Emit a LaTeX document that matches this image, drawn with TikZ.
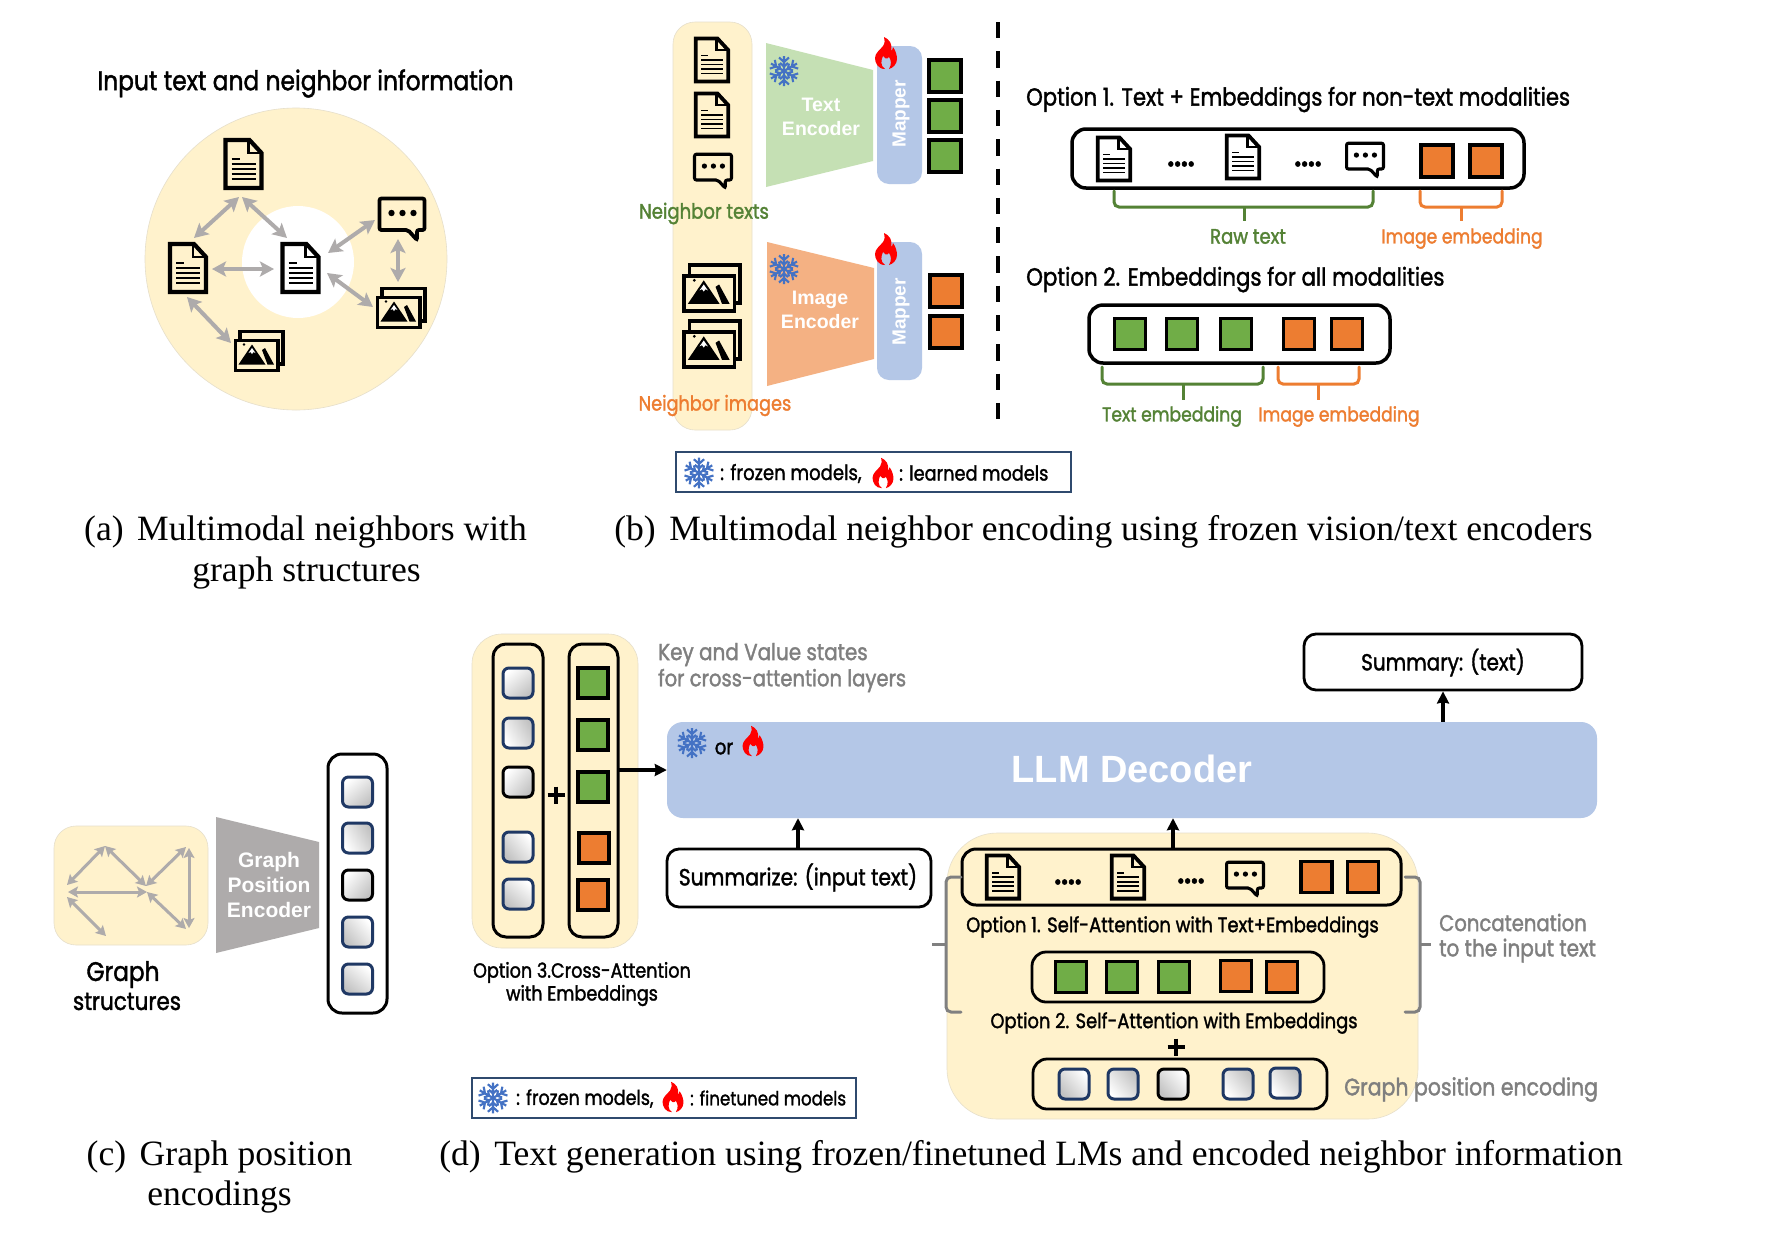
\documentclass[tikz,border=0pt]{standalone}
\usepackage{fontspec}
\usetikzlibrary{arrows.meta,calc,shapes.geometric}
\setmainfont{Liberation Serif}
\newfontfamily\fut[FakeStretch=0.86,FakeBold=1.5]{Poppins}
\newfontfamily\ari{Liberation Sans}
\definecolor{cream}{HTML}{FFF2CC}
\definecolor{creamedge}{HTML}{E6DFCB}
\definecolor{gfill}{HTML}{70AD47}
\definecolor{ofill}{HTML}{ED7D31}
\definecolor{gtext}{HTML}{548235}
\definecolor{lblue}{HTML}{B4C7E7}
\definecolor{snowc}{HTML}{4472C4}
\definecolor{navy}{HTML}{1F3864}
\definecolor{legedge}{HTML}{2F4A6E}
\definecolor{arrgray}{HTML}{AEABAB}
\definecolor{txtgray}{HTML}{7F7F7F}
\definecolor{brgray}{HTML}{808080}
\definecolor{tgreen}{HTML}{C5E0B4}
\definecolor{torange}{HTML}{F4B183}
\tikzset{
  iconbox/.style={inner sep=0pt,outer sep=0pt,minimum size=0pt},
  panel/.style={fill=cream,draw=creamedge,line width=.6pt,rounded corners=#1},
  ftxt/.style={inner sep=0pt,yshift=-2.5pt,font=\fut\fontsize{#1}{#1}\selectfont},
  captxt/.style={inner sep=0pt,yshift=-3.5pt,font=\fontsize{35.6}{40}\selectfont},
  enc/.style={inner sep=0pt,text=white,align=center,font=\ari\bfseries\fontsize{#1}{#1}\selectfont\setlength\baselineskip{1.2\baselineskip}},
  dotstxt/.style={inner sep=0pt,font=\fut\bfseries\fontsize{28}{28}\selectfont},
  gsq/.style={rectangle,inner sep=0pt,minimum size=30pt,line width=3pt,draw=navy,rounded corners=6pt,left color=white,right color=black!24,shading angle=#1},
  gsqk/.style={gsq=#1,draw=black},
  emb/.style n args={3}{rectangle,inner sep=0pt,draw=black,fill=#1,minimum size=#2,line width=#3},
  boxr/.style n args={2}{rectangle,inner sep=0pt,draw=black,rounded corners=#1,line width=#2},
  gar/.style={draw=arrgray,line width=4pt,{Stealth[length=14pt,width=15pt,inset=3pt]}-{Stealth[length=14pt,width=15pt,inset=3pt]}},
  gsar/.style={draw=arrgray,line width=3pt,{Stealth[length=10pt,width=11pt,inset=2pt]}-{Stealth[length=10pt,width=11pt,inset=2pt]}},
  kar/.style={draw=black,line width=3.5pt,-{Stealth[length=12pt,width=12pt,inset=1pt]}},
  brk/.style={line width=#1,rounded corners=5pt,line cap=round},
  legendbox/.style={rectangle,inner sep=0pt,draw=legedge,line width=1.6pt,fill=white}
}
\newcommand\docicon[4]{%
  \node[iconbox,minimum width=#4*39pt,minimum height=#4*50pt] (#1) at (#2,#3) {};
  \begin{scope}[shift={(#2,#3)},scale=#4]
    \draw[line width=#4*4.2pt] (-18,-24)--(6,-24)--(18,-11)--(18,24)--(-18,24)--cycle;
    \draw[line width=#4*2.8pt] (5,-24)--(5,-11)--(18,-11);
    \draw[line width=#4*2.2pt] (-12,-5)--(-4,-5) (-12,0)--(12,0) (-12,5)--(12,5) (-12,10)--(12,10) (-12,15)--(12,15);
  \end{scope}}
\newcommand\chaticon[4]{%
  \node[iconbox,minimum width=#4*48pt,minimum height=#4*45pt] (#1) at (#2,#3) {};
  \begin{scope}[shift={(#2,#3)},scale=#4]
    \draw[line width=#4*3.8pt,rounded corners=2pt] (-22.5,-20.5)--(22.5,-20.5)--(22.5,11)--(15,11)--(15,21)--(6,11)--(-22.5,11)--cycle;
    \fill (-10.5,-6) circle (3.2) (0.5,-6) circle (3.2) (11.5,-6) circle (3.2);
  \end{scope}}
\newcommand\imgicon[4]{%
  \node[iconbox,minimum width=#4*50pt,minimum height=#4*41pt] (#1) at (#2,#3) {};
  \begin{scope}[shift={(#2,#3)},scale=#4]
    \draw[line width=#4*3.2pt] (-23.5,-10.5) rectangle (19,19.5);
    \draw[line width=#4*3.2pt] (-19,-10.5)--(-19,-19.5)--(24,-19.5)--(24,13)--(19,13);
    \fill (-7,-6.5)--(-20.5,13.5)--(6.5,13.5)--cycle;
    \fill[white] (-7,-3)--(-10.5,2)--(-8.5,1)--(-7,3)--(-5.5,1)--(-3.5,2)--cycle;
    \fill (3,-1)--(6,-3)--(15,13.5)--(8.5,13.5)--cycle;
    \fill (-15,-6.5) circle (1.3);
  \end{scope}}
\newcommand\snowflake[3]{%
  \begin{scope}[shift={(#1,#2)},scale=#3]
    \foreach \a in {0,60,...,300}{
      \draw[snowc,rotate=\a,line width=#3*2.1pt] (0,0)--(0,15) (-5,13.5)--(0,9)--(5,13.5) (-4,8)--(0,4.5)--(4,8);
    }
  \end{scope}}
\newcommand\fireicon[3]{%
  \begin{scope}[shift={(#1,#2)},scale=#3]
    \fill[red] (-1,16) .. controls (-8,16) and (-11,10) .. (-11,5)
      .. controls (-11,0) and (-6,-3) .. (-3,-7)
      .. controls (-1,-10) and (-1,-13) .. (-2,-16)
      .. controls (3,-14) and (7,-9) .. (5,-2)
      .. controls (6,-3) and (7,-4) .. (7,-6)
      .. controls (10,-2) and (11,3) .. (11,6)
      .. controls (11,11) and (7,15) .. (3,16)
      .. controls (6,11) and (5,7) .. (3,4)
      .. controls (1,7) and (-2,5) .. (-3,3)
      .. controls (-5,7) and (-6,13) .. (-1,16) -- cycle;
  \end{scope}}
\begin{document}
\begin{tikzpicture}[x=1pt,y=-1pt]
\useasboundingbox (0,0) rectangle (1773,1235);
\fill[white] (0,0) rectangle (1773,1235);

% ---------- (a)
\node[ftxt=27.2] (atitle) at (305.5,81) {Input text and neighbor information};
\fill[cream,draw=creamedge,line width=.6pt] (296,259) circle (151);
\fill[white] (298,262) circle (56);
\docicon{dc}{300.5}{268}{1}
\docicon{dt}{243.5}{164}{1}
\docicon{dl}{188}{268}{1}
\chaticon{ch}{402}{219}{1}
\imgicon{ir}{401}{308}{1}
\imgicon{ib}{259}{351}{1}
\draw[gar] ($(dt)+(-4.5,33)$) -- ($(dl)+(6,-30)$);
\draw[gar] ($(dt)+(-1.5,33)$) -- ($(dc)+(-13.5,-30)$);
\draw[gar] ($(dl)+(24,1)$) -- ($(dc)+(-26.5,1)$);
\draw[gar] ($(dc)+(27.5,-15)$) -- ($(ch)+(-27,1)$);
\draw[gar] ($(dc)+(26.5,5)$) -- ($(ir)+(-28,-1)$);
\draw[gar] ($(ch)+(-4,20)$) -- ($(ir)+(-3,-26)$);
\draw[gar] ($(dl)+(-1,29)$) -- ($(ib)+(-28,-8)$);

% ---------- (b)
\draw[panel=22pt] (673,22) rectangle (752,430);
\docicon{bd1}{712}{60}{.9}
\docicon{bd2}{712}{115}{.9}
\chaticon{bc1}{713}{171}{.82}
\imgicon{bi1}{712}{288}{1.18}
\imgicon{bi2}{712}{344}{1.18}
\node[ftxt=21,text=gtext] (ntxt) at (704,211) {Neighbor texts};
\node[ftxt=20.6,text=ofill] (nimg) at (715,403) {Neighbor images};
\path[fill=tgreen] (766,43)--(873,70)--(873,161)--(766,187)--cycle;
\path[fill=torange] (767,242)--(874,268)--(874,359)--(767,386)--cycle;
\snowflake{784}{71}{1}
\snowflake{784}{269}{1}
\node[enc=19.5] (tenc) at (821,117) {Text\\Encoder};
\node[enc=19.5] (ienc) at (820,310) {Image\\Encoder};
\path[fill=lblue,rounded corners=12pt] (877,46) rectangle (922,184);
\path[fill=lblue,rounded corners=12pt] (877,242) rectangle (922,380);
\node[enc=19,rotate=90] (m1) at (901,114) {Mapper};
\node[enc=19,rotate=90] (m2) at (901,312) {Mapper};
\fireicon{886}{53}{1}
\fireicon{886}{249}{1}
\node[emb={gfill}{32pt}{4pt}] (bg1) at (945,76) {};
\node[emb={gfill}{32pt}{4pt}] (bg2) at (945,116) {};
\node[emb={gfill}{32pt}{4pt}] (bg3) at (945,156) {};
\node[emb={ofill}{32pt}{4pt}] (bo1) at (945.5,291) {};
\node[emb={ofill}{32pt}{4pt}] (bo2) at (945.5,332) {};
\draw[line width=4pt,dash pattern=on 16.3pt off 13pt] (998,22)--(998,420);

\node[ftxt=24.6,anchor=west] (op1) at (1026,97) {Option 1. Text + Embeddings for non-text modalities};
\draw[boxr={14pt}{3.5pt}] (1072,129) rectangle (1524,188);
\docicon{o1d1}{1114}{159}{.9}
\docicon{o1d2}{1243}{157}{.9}
\chaticon{o1c}{1365}{160}{.82}
\node[dotstxt] (o1p1) at (1181,164) {....};
\node[dotstxt] (o1p2) at (1308,164) {....};
\node[emb={ofill}{32pt}{3.5pt}] (o1o1) at (1437,161) {};
\node[emb={ofill}{32pt}{3.5pt}] (o1o2) at (1486,161) {};
\draw[gtext,brk=3pt] (1114,191)--(1114,207)--(1373,207)--(1373,191);
\draw[gtext,line width=3pt] (1244,207)--(1244,221);
\node[ftxt=21,text=gtext] (rawt) at (1248,234) {Raw text};
\draw[ofill,brk=3pt] (1420,191)--(1420,207)--(1502,207)--(1502,191);
\draw[ofill,line width=3pt] (1461,207)--(1461,221);
\node[ftxt=20,text=ofill] (ie1) at (1462,236) {Image embedding};

\node[ftxt=24.8,anchor=west] (op2) at (1026,277) {Option 2. Embeddings for all modalities};
\draw[boxr={14pt}{3.5pt}] (1089,305) rectangle (1390,363);
\foreach \n/\x in {1/1130,2/1182,3/1236}{\node[emb={gfill}{31pt}{3.5pt}] (o2g\n) at (\x,334) {};}
\foreach \n/\x in {1/1299,2/1347}{\node[emb={ofill}{31pt}{3.5pt}] (o2o\n) at (\x,334) {};}
\draw[gtext,brk=3pt] (1102,367)--(1102,384)--(1263,384)--(1263,367);
\draw[gtext,line width=3pt] (1183,384)--(1183,400);
\draw[ofill,brk=3pt] (1278,367)--(1278,384)--(1359,384)--(1359,367);
\draw[ofill,line width=3pt] (1318,384)--(1318,400);
\node[ftxt=20,text=gtext] (te2) at (1172,414) {Text embedding};
\node[ftxt=20,text=ofill] (ie2) at (1339,414) {Image embedding};

\draw[legendbox] (676,452) rectangle (1071,492);
\snowflake{699}{473}{1.02}
\node[ftxt=21,anchor=west] (lb1) at (720,471) {: frozen models,};
\fireicon{883}{473}{.95}
\node[ftxt=20.6,anchor=west] (lb2) at (899,470.5) {: learned models};

% captions top
\node[captxt] (capa1) at (305.5,528) {(a)\hspace{.38em}Multimodal neighbors with};
\node[captxt] (capa2) at (306.5,569) {graph structures};
\node[captxt] (capb) at (1103.5,528) {(b)\hspace{.38em}Multimodal neighbor encoding using frozen vision/text encoders};

% ---------- (c)
\draw[panel=22pt] (54,826) rectangle (208,945);
\coordinate (g1) at (105,846);
\coordinate (g2) at (67,885);
\coordinate (g3) at (146,886);
\coordinate (g4) at (68,892);
\coordinate (g5) at (147,892);
\coordinate (g6) at (186,847);
\coordinate (g7) at (189,848);
\coordinate (g8) at (189,928);
\coordinate (g9) at (186,929);
\coordinate (g10) at (67,897);
\coordinate (g11) at (106,936);
\draw[gsar] (g1)--(g2);
\draw[gsar] (g1)--(g3);
\draw[gsar] (g4)--(g5);
\draw[gsar] (g6)--(g3);
\draw[gsar] (g7)--(g8);
\draw[gsar] (g5)--(g9);
\draw[gsar] (g10)--(g11);
\path[fill=arrgray] (216,817)--(319,842)--(319,928)--(216,953)--cycle;
\node[enc=21] (gpe) at (269,885) {Graph\\Position\\Encoder};
\node[boxr={14pt}{3pt},minimum width=59pt,minimum height=259pt] (gbox) at (357.5,883.5) {};
\node[gsq=40] (gs1) at (357.5,792) {};
\node[gsq=120] (gs2) at (357.5,838) {};
\node[gsqk=50] (gs3) at (357.5,885) {};
\node[gsq=-50] (gs4) at (357.5,932) {};
\node[gsq=-40] (gs5) at (357.5,979) {};
\node[ftxt=27,align=center] (gstr1) at (123,972) {Graph};
\node[ftxt=25] (gstr2) at (127,999) {structures};

% ---------- (d)
\draw[panel=30pt] (472,634) rectangle (638,948);
\node[boxr={13pt}{3pt},minimum width=50pt,minimum height=293pt] (lbx) at (518,790.5) {};
\node[boxr={13pt}{3pt},minimum width=49pt,minimum height=293pt] (rbx) at (593.5,790.5) {};
\node[gsq=40] (ls1) at (518,683) {};
\node[gsq=120] (ls2) at (518,733) {};
\node[gsqk=50] (ls3) at (518,782) {};
\node[gsq=-50] (ls4) at (518,847) {};
\node[gsq=-40] (ls5) at (518,894) {};
\node[emb={gfill}{30pt}{4pt}] (rg1) at (593,683) {};
\node[emb={gfill}{30pt}{4pt}] (rg2) at (593,735) {};
\node[emb={gfill}{30pt}{4pt}] (rg3) at (593,787) {};
\node[emb={ofill}{30pt}{4pt}] (ro1) at (594,848) {};
\node[emb={ofill}{30pt}{4pt}] (ro2) at (593,895) {};
\draw[line width=4pt] (547.5,795)--(564.5,795) (556,786.5)--(556,803.5);
\node[ftxt=20.5] (op3a) at (582,970) {Option 3.Cross-Attention};
\node[ftxt=20.5] (op3b) at (582,993) {with Embeddings};
\node[ftxt=23.2,anchor=west,text=txtgray] (kv1) at (658,652) {Key and Value states};
\node[ftxt=22.8,anchor=west,text=txtgray] (kv2) at (658,678) {for cross-attention layers};

\node[rectangle,fill=lblue,rounded corners=16pt,minimum width=930pt,minimum height=96pt,inner sep=0pt] (llm) at (1132,770) {};
\node[enc=38] (llmt) at (1132,769) {LLM Decoder};
\snowflake{692}{743}{1}
\node[ftxt=21] (ort) at (724,746) {or};
\fireicon{753}{741}{.95}
\coordinate (rbxr) at (618,770);
\draw[kar] (rbxr)--(llm.west|-rbxr);

\node[boxr={12pt}{2.8pt},minimum width=264pt,minimum height=58pt] (sumz) at (799,878) {};
\node[ftxt=23.5] (sumzt) at (798,875) {Summarize: (input text)};
\coordinate (axa) at (798,0);
\coordinate (axb) at (1173,0);
\draw[kar] (sumz.north-|axa)--(llm.south-|axa);
\node[boxr={12pt}{2.8pt},minimum width=278pt,minimum height=56pt] (summ) at (1443,662) {};
\node[ftxt=23.2] (summt) at (1443,660) {Summary: (text)};
\draw[kar] (llm.north-|summ.south)--(summ.south);

\draw[panel=50pt] (947,833) rectangle (1418,1119);
\node[boxr={14pt}{3pt},minimum width=439pt,minimum height=56pt] (d1) at (1181.5,877) {};
\draw[kar] (d1.north-|axb)--(llm.south-|axb);
\docicon{d1a}{1003}{877}{.9}
\docicon{d1b}{1128}{877}{.9}
\chaticon{d1c}{1245}{879}{.82}
\node[dotstxt] (d1p1) at (1068,882) {....};
\node[dotstxt] (d1p2) at (1191,881) {....};
\node[emb={ofill}{31pt}{3.5pt}] (d1o1) at (1316.5,877) {};
\node[emb={ofill}{31pt}{3.5pt}] (d1o2) at (1363,877) {};
\node[ftxt=20.9] (opa) at (1172.5,924.5) {Option 1. Self-Attention with Text+Embeddings};
\node[boxr={14pt}{2.8pt},minimum width=292pt,minimum height=50pt] (d2) at (1178,977) {};
\node[emb={gfill}{31pt}{2.6pt}] (d2g1) at (1071,977) {};
\node[emb={gfill}{31pt}{2.6pt}] (d2g2) at (1122,977) {};
\node[emb={gfill}{31pt}{2.6pt}] (d2g3) at (1174,977) {};
\node[emb={ofill}{31pt}{2.6pt}] (d2o1) at (1236,976) {};
\node[emb={ofill}{31pt}{2.6pt}] (d2o2) at (1282,977) {};
\node[ftxt=20.8] (opb) at (1174,1020.5) {Option 2. Self-Attention with Embeddings};
\draw[line width=4pt] (1167.5,1047)--(1184.5,1047) (1176,1038.5)--(1176,1055.5);
\node[boxr={14pt}{2.8pt},minimum width=294pt,minimum height=50pt] (d3) at (1180,1084) {};
\node[gsq=-50] (d3s1) at (1074,1084) {};
\node[gsq=130] (d3s2) at (1123,1084) {};
\node[gsqk=-50] (d3s3) at (1173,1084) {};
\node[gsq=130] (d3s4) at (1238,1084) {};
\node[gsq=130] (d3s5) at (1285,1083) {};
\node[ftxt=23.8,anchor=west,text=txtgray] (gpet) at (1344,1087) {Graph position encoding};
\draw[brgray,brk=3pt] (961,877)--(946,877)--(946,1012)--(961,1012);
\draw[brgray,line width=3pt] (946,944)--(932,944);
\draw[brgray,brk=3pt] (1405,877)--(1420,877)--(1420,1012)--(1405,1012);
\draw[brgray,line width=3pt] (1420,944)--(1431,944);
\node[ftxt=22.8,anchor=west,text=txtgray] (cc1) at (1439,920) {Concatenation};
\node[ftxt=23.3,anchor=west,text=txtgray] (cc2) at (1439,948) {to the input text};

\draw[legendbox] (472,1078) rectangle (856,1118);
\snowflake{493}{1098}{1.02}
\node[ftxt=20.4,anchor=west] (ld1) at (516,1096) {: frozen models,};
\fireicon{673}{1097}{.95}
\node[ftxt=19.4,anchor=west] (ld2) at (690,1095.5) {: finetuned models};

% captions bottom
\node[captxt] (capc1) at (219.5,1153) {(c)\hspace{.38em}Graph position};
\node[captxt] (capc2) at (219.5,1193) {encodings};
\node[captxt] (capd) at (1031,1153) {(d)\hspace{.38em}Text generation using frozen/finetuned LMs and encoded neighbor information};
\end{tikzpicture}
\end{document}
